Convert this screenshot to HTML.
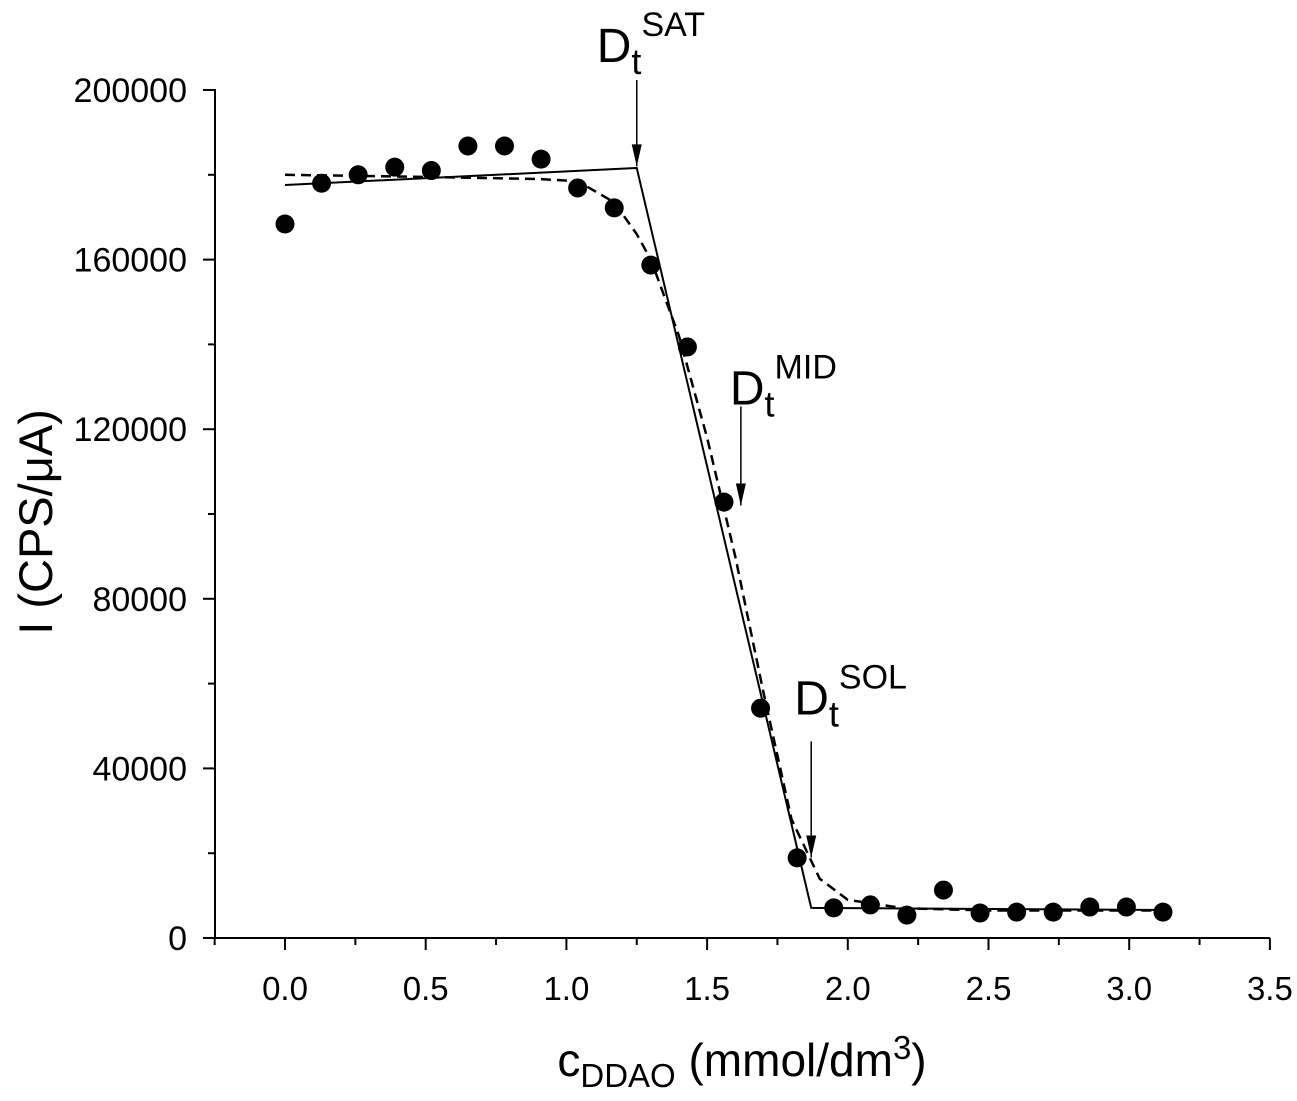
<!DOCTYPE html>
<html><head><meta charset="utf-8"><style>
body{margin:0;background:#fff;}
text{font-family:"Liberation Sans",Arial,sans-serif;fill:#000;}
</style></head><body>
<svg id="chart" width="1297" height="1096" viewBox="0 0 1297 1096" xmlns="http://www.w3.org/2000/svg">
<g id="axes"></g>
<g id="fits"></g>
<g id="pts"></g>
<g id="ann"></g>
<text transform="translate(52,522) rotate(-90)" text-anchor="middle" font-size="47">I (CPS/μA)</text>
<text x="742" y="1076" text-anchor="middle" font-size="46">c<tspan font-size="33" dy="11">DDAO</tspan><tspan dy="-11"> (mmol/dm</tspan><tspan font-size="33" dy="-17">3</tspan><tspan dy="17">)</tspan></text>
</svg>
<script>
const xData=[0,0.13,0.26,0.39,0.52,0.65,0.78,0.91,1.04,1.17,1.30,1.43,1.56,1.69,1.82,1.95,2.08,2.21,2.34,2.47,2.60,2.73,2.86,2.99,3.12];
const yData=[168400,178000,180000,181800,181000,186800,186800,183700,176900,172200,158700,139400,102800,54200,18900,7100,7800,5400,11300,5900,6100,6100,7300,7300,6100];
const solidX=[0,1.25,1.87,3.12];
const solidY=[177600,181600,7100,6600];
const dashX=[0,0.5,0.9,1.04,1.17,1.25,1.3,1.4,1.5,1.6,1.7,1.8,1.9,2.0,2.2,2.5,3.12];
const dashY=[180000,179500,179000,178500,173500,166000,160000,142000,118000,90000,58000,28000,14000,9000,7000,6500,6500];
const xTicks=[0,0.5,1,1.5,2,2.5,3,3.5];
const xTickLabels=["0.0","0.5","1.0","1.5","2.0","2.5","3.0","3.5"];
const yTicks=[0,40000,80000,120000,160000,200000];
const yTickLabels=["0","40000","80000","120000","160000","200000"];
const markerX=[1.25,1.62,1.87];
const markerTop=[200000,123000,44000];
const markerTip=[182000,102000,19000];
const markerSup=["SAT","MID","SOL"];
const X=v=>285+v*281.4;
const Y=v=>938-v*848/200000;
const NS="http://www.w3.org/2000/svg";
function mk(p,t,a){const e=document.createElementNS(NS,t);for(const k in a)e.setAttribute(k,a[k]);p.appendChild(e);return e;}
const ax=document.getElementById('axes');
let e=mk(ax,'line',{x1:215,y1:938,x2:1270,y2:938,stroke:'#000','stroke-width':2});

e=mk(ax,'line',{x1:215,y1:89,x2:215,y2:939,stroke:'#000','stroke-width':2});

xTicks.forEach((v,i)=>{
  e=mk(ax,'line',{x1:X(v),y1:938,x2:X(v),y2:950,stroke:'#000','stroke-width':2});
  
  if(i<xTicks.length-1){e=mk(ax,'line',{x1:X(v+0.25),y1:938,x2:X(v+0.25),y2:945,stroke:'#000','stroke-width':2});
  }
  e=mk(ax,'text',{x:X(v),y:1000,'text-anchor':'middle','font-size':33});e.textContent=xTickLabels[i];
  
});
e=mk(ax,'line',{x1:X(-0.25),y1:938,x2:X(-0.25),y2:945,stroke:'#000','stroke-width':2});

yTicks.forEach((v,i)=>{
  e=mk(ax,'line',{x1:203,y1:Y(v),x2:215,y2:Y(v),stroke:'#000','stroke-width':2});
  
  if(i<yTicks.length-1){e=mk(ax,'line',{x1:208,y1:Y(v+20000),x2:215,y2:Y(v+20000),stroke:'#000','stroke-width':2});
  }
  e=mk(ax,'text',{x:187,y:Y(v)+12,'text-anchor':'end','font-size':34});e.textContent=yTickLabels[i];
  
});
const fg=document.getElementById('fits');
e=mk(fg,'polyline',{points:solidX.map((v,i)=>X(v)+','+Y(solidY[i])).join(' '),fill:'none',stroke:'#000','stroke-width':2});

e=mk(fg,'polyline',{points:dashX.map((v,i)=>X(v)+','+Y(dashY[i])).join(' '),fill:'none',stroke:'#000','stroke-width':2.5,'stroke-dasharray':'10,6','stroke-linejoin':'round'});

const pg=document.getElementById('pts');
xData.forEach((v,i)=>{e=mk(pg,'circle',{cx:X(v),cy:Y(yData[i]),r:9.5,fill:'#000'});
});
const ag=document.getElementById('ann');
const labelDx=[-40,-11,-17];
const labelDy=[-18,-2,-27];
markerX.forEach((mx,i)=>{
  const x=X(mx),tip=Y(markerTip[i]),top=Y(markerTop[i])-10;
  e=mk(ag,'line',{x1:x,y1:top,x2:x,y2:tip,stroke:'#000','stroke-width':1.5});
  
  e=mk(ag,'polygon',{points:`${x-5},${tip-22} ${x+5},${tip-22} ${x},${tip}`,fill:'#000'});
  
  const t=mk(ag,'text',{x:x+labelDx[i],y:top+labelDy[i],'font-size':48});
  t.innerHTML=`D<tspan font-size="36" dy="12">t</tspan><tspan font-size="34" dy="-38">${markerSup[i]}</tspan>`;
  
});
</script>
</body></html>
